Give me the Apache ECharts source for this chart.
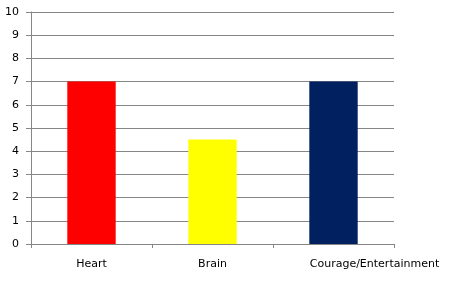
<!DOCTYPE html>
<html><head><meta charset="utf-8">
<script src="https://cdn.jsdelivr.net/npm/echarts@6/dist/echarts.min.js"></script>
<style>html,body{margin:0;padding:0;background:#fff}#c{width:450px;height:291px}</style>
</head><body><div id="c"></div>
<script>
const categories = ['Heart', 'Brain', 'Courage/Entertainment'];
const values = [7, 4.5, 7];
const barColors = ['#FF0000', '#FFFF00', '#002060'];
const chart = echarts.init(document.getElementById('c'), null, {renderer: 'canvas'});
chart.setOption({
  animation: false,
  grid: {left: 31, right: 56, top: 12, bottom: 47, containLabel: false},
  xAxis: {
    type: 'category',
    data: categories.map((c, i) => i === categories.length - 1
      ? {value: c, textStyle: {padding: [0, 0, 0, 82]}}
      : c),
    axisLine: {lineStyle: {color: '#868686', width: 1}},
    axisTick: {show: true, length: 4, interval: 0, lineStyle: {color: '#868686'}},
    axisLabel: {color: '#000', fontFamily: 'DejaVu Sans', fontSize: 11, margin: 15, interval: 0}
  },
  yAxis: {
    type: 'value', min: 0, max: 10, interval: 1,
    axisLine: {show: true, lineStyle: {color: '#868686', width: 1}},
    axisTick: {show: true, length: 5, lineStyle: {color: '#868686'}},
    splitLine: {lineStyle: {color: '#868686', width: 1}},
    axisLabel: {color: '#000', fontFamily: 'DejaVu Sans', fontSize: 11, margin: 12}
  },
  series: [{
    type: 'bar', barWidth: '40%',
    data: values.map((v, i) => ({value: v, itemStyle: {color: barColors[i]}}))
  }]
});
</script></body></html>
